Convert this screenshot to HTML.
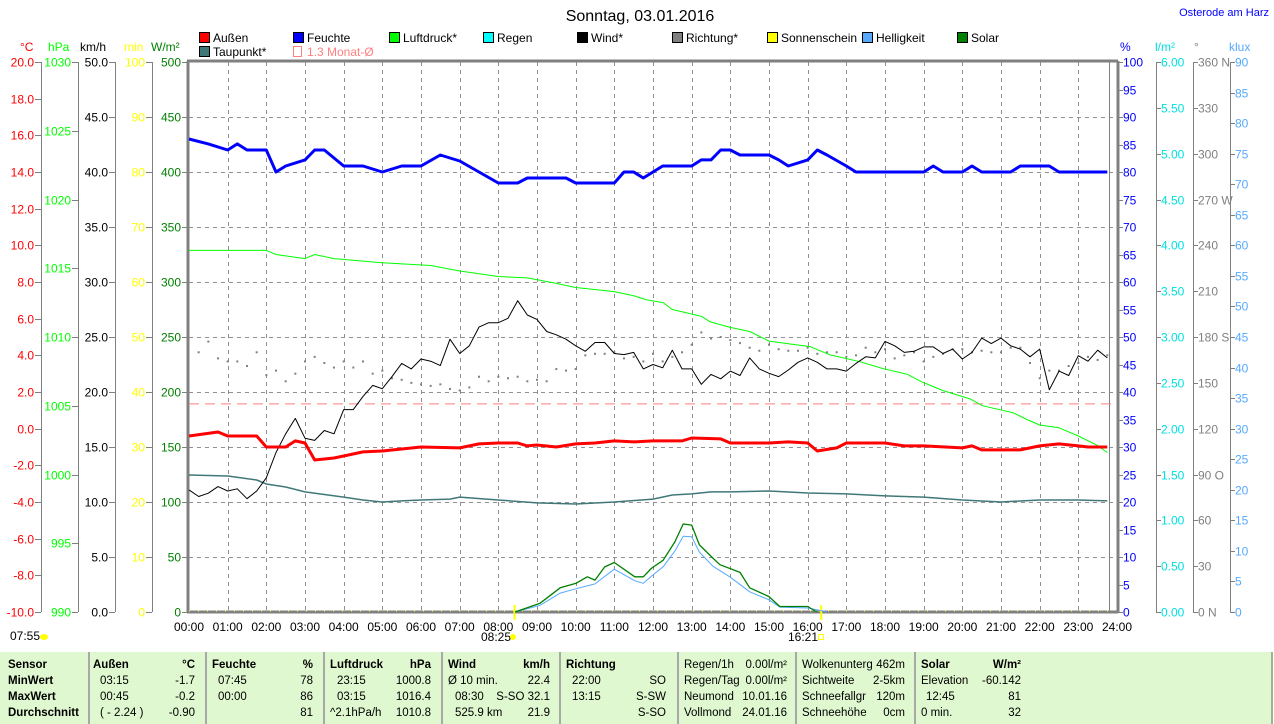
<!DOCTYPE html>
<html><head><meta charset="utf-8">
<style>
body{margin:0;width:1274px;height:724px;background:#fff;overflow:hidden;font-family:"Liberation Sans",sans-serif;position:relative}
svg{position:absolute;left:0;top:0}
text{font-family:"Liberation Sans",sans-serif}
#tbl{position:absolute;left:0;top:652px;width:1271px;height:72px;background:#e0f8d0;border-right:2px solid #a0b090;font-size:11.5px}
#tbl div{position:absolute;white-space:nowrap;line-height:14px}
.sep{width:2px;height:72px;top:0;background:#a8a8a8}
.b{font-weight:bold}
.r{text-align:right}
</style></head><body>
<svg id="ch" width="1274" height="652"></svg>
<div id="tbl">
<div class="sep" style="left:88px"></div><div class="sep" style="left:205px"></div><div class="sep" style="left:323px"></div><div class="sep" style="left:441px"></div><div class="sep" style="left:559px"></div><div class="sep" style="left:677px"></div><div class="sep" style="left:795px"></div><div class="sep" style="left:914px"></div>
<div class="b" style="left:8px;top:6px">Sensor</div><div class="b" style="left:8px;top:22px">MinWert</div><div class="b" style="left:8px;top:38px">MaxWert</div><div class="b" style="left:8px;top:54px">Durchschnitt</div>
<div class="b" style="left:93px;top:6px">Außen</div><div class="b r" style="right:1076px;top:6px">°C</div>
<div style="left:100px;top:22px">03:15</div><div class="r" style="right:1076px;top:22px">-1.7</div>
<div style="left:100px;top:38px">00:45</div><div class="r" style="right:1076px;top:38px">-0.2</div>
<div style="left:100px;top:54px">( - 2.24 )</div><div class="r" style="right:1076px;top:54px">-0.90</div>
<div class="b" style="left:212px;top:6px">Feuchte</div><div class="b r" style="right:958px;top:6px">%</div>
<div style="left:218px;top:22px">07:45</div><div class="r" style="right:958px;top:22px">78</div>
<div style="left:218px;top:38px">00:00</div><div class="r" style="right:958px;top:38px">86</div>
<div class="r" style="right:958px;top:54px">81</div>
<div class="b" style="left:330px;top:6px">Luftdruck</div><div class="b r" style="right:840px;top:6px">hPa</div>
<div style="left:337px;top:22px">23:15</div><div class="r" style="right:840px;top:22px">1000.8</div>
<div style="left:337px;top:38px">03:15</div><div class="r" style="right:840px;top:38px">1016.4</div>
<div style="left:330px;top:54px">^2.1hPa/h</div><div class="r" style="right:840px;top:54px">1010.8</div>
<div class="b" style="left:448px;top:6px">Wind</div><div class="b r" style="right:721px;top:6px">km/h</div>
<div style="left:448px;top:22px">Ø 10 min.</div><div class="r" style="right:721px;top:22px">22.4</div>
<div style="left:455px;top:38px">08:30</div><div class="r" style="right:721px;top:38px">S-SO 32.1</div>
<div style="left:455px;top:54px">525.9 km</div><div class="r" style="right:721px;top:54px">21.9</div>
<div class="b" style="left:566px;top:6px">Richtung</div>
<div style="left:572px;top:22px">22:00</div><div class="r" style="right:605px;top:22px">SO</div>
<div style="left:572px;top:38px">13:15</div><div class="r" style="right:605px;top:38px">S-SW</div>
<div class="r" style="right:605px;top:54px">S-SO</div>
<div style="left:684px;top:6px">Regen/1h</div><div class="r" style="right:484px;top:6px">0.00l/m²</div>
<div style="left:684px;top:22px">Regen/Tag</div><div class="r" style="right:484px;top:22px">0.00l/m²</div>
<div style="left:684px;top:38px">Neumond</div><div class="r" style="right:484px;top:38px">10.01.16</div>
<div style="left:684px;top:54px">Vollmond</div><div class="r" style="right:484px;top:54px">24.01.16</div>
<div style="left:802px;top:6px">Wolkenunterg</div><div class="r" style="right:366px;top:6px">462m</div>
<div style="left:802px;top:22px">Sichtweite</div><div class="r" style="right:366px;top:22px">2-5km</div>
<div style="left:802px;top:38px">Schneefallgr</div><div class="r" style="right:366px;top:38px">120m</div>
<div style="left:802px;top:54px">Schneehöhe</div><div class="r" style="right:366px;top:54px">0cm</div>
<div class="b" style="left:921px;top:6px">Solar</div><div class="b r" style="right:250px;top:6px">W/m²</div>
<div style="left:921px;top:22px">Elevation</div><div class="r" style="right:250px;top:22px">-60.142</div>
<div style="left:926px;top:38px">12:45</div><div class="r" style="right:250px;top:38px">81</div>
<div style="left:921px;top:54px">0 min.</div><div class="r" style="right:250px;top:54px">32</div>
</div>
<script>
// ---- data ----
const humT=[0,0.5,1,1.25,1.5,2,2.25,2.5,3,3.25,3.5,4,4.5,5,5.5,6,6.5,7,7.5,8,8.5,8.75,9.75,10,11,11.25,11.5,11.75,12.25,13,13.25,13.5,13.75,14,14.25,15,15.25,15.5,16,16.25,16.5,17,17.25,19,19.25,19.5,20,20.25,20.5,21.25,21.5,22.25,22.5,23.75];
const humV=[86,85.1,84,85.1,84,84,80,81.1,82.2,84,84,81.1,81.1,80,81.1,81.1,83.1,82,80,78,78,78.9,78.9,78,78,80,80,78.9,81.1,81.1,82.2,82.2,84,84,83.1,83.1,82.2,81.1,82.2,84,83.1,81.1,80,80,81.1,80,80,81.1,80,80,81.1,81.1,80,80];
const tmpT=[0,0.75,1,1.75,2,2.5,2.75,3,3.25,3.75,4,4.5,5,5.5,6,7,7.5,8,8.5,8.75,9,9.5,10,10.5,11,11.5,12,12.75,13,13.75,14,14.5,15,15.5,16,16.25,16.75,17,18,18.5,19,20,20.25,20.5,21.5,22,22.5,23,23.25,23.75];
const tmpV=[-0.4,-0.18,-0.4,-0.4,-1.0,-1.0,-0.67,-0.78,-1.71,-1.6,-1.49,-1.27,-1.22,-1.11,-1.0,-1.05,-0.83,-0.78,-0.78,-0.94,-0.89,-1.0,-0.83,-0.78,-0.67,-0.72,-0.67,-0.67,-0.51,-0.56,-0.78,-0.78,-0.78,-0.72,-0.78,-1.22,-1.05,-0.78,-0.78,-0.94,-0.94,-1.05,-0.94,-1.16,-1.16,-0.94,-0.83,-0.94,-1.0,-1.0];
const dewT=[0,1,1.75,2,2.5,3,4,4.5,5,5.5,6,6.75,7,8,9,10,11,12,12.5,13,13.5,14,15,16,17,18,19,20,21,22,23,23.75];
const dewV=[-2.53,-2.58,-2.8,-3.02,-3.18,-3.45,-3.73,-3.89,-4.0,-3.94,-3.89,-3.84,-3.73,-3.89,-4.05,-4.11,-4.0,-3.84,-3.62,-3.56,-3.45,-3.45,-3.4,-3.51,-3.56,-3.67,-3.73,-3.89,-4.0,-3.89,-3.89,-3.94];
const presT=[0,2,2.25,3,3.25,3.75,5,6.25,7,8,8.75,9.5,10,11,11.5,11.84,12.26,12.5,13.26,13.48,14,14.5,15,16.06,16.58,17.35,17.95,18.56,18.98,19.5,20.2,20.53,21.3,21.67,22,22.5,23,23.5,23.75];
const presV=[1016.3,1016.3,1016.0,1015.7,1016.0,1015.7,1015.4,1015.2,1014.8,1014.4,1014.3,1013.9,1013.6,1013.3,1013.0,1012.7,1012.5,1012.0,1011.5,1011.1,1010.7,1010.4,1009.7,1009.3,1008.7,1008.2,1007.7,1007.3,1006.7,1006.1,1005.5,1005.0,1004.5,1004.0,1003.6,1003.4,1002.8,1002.1,1001.6];
const windV=[11.1,10.5,10.8,11.4,11.0,11.2,10.3,11.0,12.2,14.5,16.2,17.6,15.8,15.6,16.5,16.2,18.4,18.4,19.6,20.6,20.3,21.4,22.6,22.1,23.0,22.8,22.4,24.8,23.5,24.2,25.9,26.3,26.3,26.7,28.3,27.0,26.6,25.5,25.2,24.8,24.2,23.7,24.5,24.5,23.5,23.4,23.6,22.1,22.5,22.2,23.8,22.1,22.1,20.7,21.6,21.2,21.9,21.5,23.1,22.1,21.7,21.4,22.0,22.7,23.1,22.7,22.1,22.1,21.9,22.6,23.2,23.1,24.6,24.2,23.6,23.7,24.1,24.1,23.5,23.9,23.0,23.6,24.9,24.4,24.9,24.2,23.9,23.2,23.9,20.2,21.9,21.5,23.3,22.8,23.8,23.1];
const dirV=[170,177,166,164,164,161,170,155,158,151,156,164,167,163,160,164,160,164,156,158,153,152,150,149,148,149,146,145,147,154,151,154,153,154,151,152,151,159,158,159,168,169,169,170,166,167,164,169,164,167,170,175,183,179,180,178,176,173,171,175,172,171,171,173,169,170,170,167,168,173,170,172,166,168,170,164,167,169,172,172,170,171,170,170,173,173,163,153,158,158,161,163,167,165,168];
const solT=[8.43,9.08,9.6,10.0,10.3,10.5,10.75,11.0,11.53,11.75,11.97,12.26,12.57,12.78,13.0,13.2,13.55,13.73,14.25,14.5,15.0,15.28,16.0,16.24];
const solV=[0,8,22,26,32,29,41,45,32,32,40,47,64,80,79,61,49,43,36,22,14,5,5,0];
const luxT=[8.43,9.08,9.6,10.0,10.5,11.0,11.53,11.75,11.97,12.26,12.57,12.78,13.0,13.2,13.55,14.0,14.5,15.0,15.28,16.0,16.3,16.5];
const luxV=[0,1.1,3.1,3.8,4.6,7.0,5.1,4.7,5.9,7.4,10.0,12.4,12.3,9.8,7.5,5.7,3.3,2.0,0.8,0.65,0.3,0];
const monthAvg=1.35;
const xTicks=["00:00","01:00","02:00","03:00","04:00","05:00","06:00","07:00","08:00","09:00","10:00","11:00","12:00","13:00","14:00","15:00","16:00","17:00","18:00","19:00","20:00","21:00","22:00","23:00","24:00"];

// ---- scales ----
const X0=189,X1=1117,YT=62,YB=612,H=YB-YT;
const X=t=>X0+t*(X1-X0)/24;
const lin=(lo,hi)=>v=>YB-(v-lo)/(hi-lo)*H;
const yC=lin(-10,20),yP=lin(990,1030),yK=lin(0,50),yM=lin(0,100),yW=lin(0,500),yH=lin(0,100),yR=lin(0,6),yD=lin(0,360),yL=lin(0,90);
const svg=document.getElementById('ch');const NS='http://www.w3.org/2000/svg';
function mk(tag,at,parent){const e=document.createElementNS(NS,tag);for(const k in at)e.setAttribute(k,at[k]);(parent||svg).appendChild(e);return e;}
function txt(x,y,s,col,anchor,size){const e=mk('text',{x:x,y:y,fill:col,'text-anchor':anchor||'start',style:'font-size:'+(size||12)+'px'});e.textContent=s;return e;}

// title
let e=txt(640,21,'Sonntag, 03.01.2016','#000','middle',16);


e=txt(1269,16,'Osterode am Harz','#0000ff','end',11);



// grid
const grid=mk('g',{stroke:'#909090','stroke-dasharray':'4,4','stroke-width':1});


for(let h=1;h<24;h++)mk('line',{x1:Math.round(X(h))+.5,x2:Math.round(X(h))+.5,y1:YT,y2:YB},grid);
for(let v=50;v<500;v+=50)mk('line',{x1:X0,x2:X1,y1:Math.round(yW(v))+.5,y2:Math.round(yW(v))+.5},grid);

// frame
mk('line',{x1:X0-1,x2:X0-1,y1:YT-1,y2:YB+1,stroke:'#808080','stroke-width':3});
mk('line',{x1:X0-2,x2:X1+1,y1:YT-1,y2:YT-1,stroke:'#808080','stroke-width':3});
mk('line',{x1:X0-2,x2:X1+1,y1:YB,y2:YB,stroke:'#808080','stroke-width':3});
mk('line',{x1:1109.5,x2:1109.5,y1:YT,y2:YB,stroke:'#808080','stroke-width':1});
mk('line',{x1:X1+1,x2:X1+1,y1:YT-1,y2:YB+1,stroke:'#808080','stroke-width':3});
mk('line',{x1:X0,x2:1108,y1:YB-1,y2:YB-1,stroke:'#ffff00','stroke-width':1,'stroke-dasharray':'1,8'});

// axes
function axis(name,lineX,side,vals,scale,fmt,col,unit,unitX,extra){
 const g=mk('g',{});
 
 
 mk('line',{x1:lineX+.5,x2:lineX+.5,y1:YT,y2:YB,stroke:'#808080','stroke-width':1},g);
 vals.forEach((v,i)=>{const y=Math.round(scale(v))+.5;
  if(side<0){mk('line',{x1:lineX-6,x2:lineX,y1:y,y2:y,stroke:'#808080'},g);const t=txt(lineX-7,y+4,fmt(v),col,'end');g.appendChild(t);}
  else{mk('line',{x1:lineX,x2:lineX+5,y1:y,y2:y,stroke:'#808080'},g);const t=txt(lineX+5,y+4,fmt(v)+(extra?extra[i]:''),col,'start');g.appendChild(t);}
 });
 g.appendChild(txt(unitX,51,unit,col,'start',12));
}
const rng=(a,b,s)=>{const r=[];for(let v=a;v<=b+1e-9;v+=s)r.push(+v.toFixed(4));return r;};
axis('celsius-axis',41,-1,rng(-10,20,2),yC,v=>v.toFixed(1),'#ff0000','°C',20);
axis('hpa-axis',78,-1,rng(990,1030,5),yP,v=>String(v),'#00ff00','hPa',48);
axis('kmh-axis',115,-1,rng(0,50,5),yK,v=>v.toFixed(1),'#000','km/h',80);
axis('minutes-axis',152,-1,rng(0,100,10),yM,v=>String(v),'#ffff00','min',124);
axis('solar-axis',188,-1,rng(0,500,50),yW,v=>String(v),'#008000','W/m²',151);
axis('humidity-axis',1118,1,rng(0,100,5),yH,v=>String(v),'#0000ff','%',1120);
axis('rain-axis',1156,1,rng(0,6,0.5),yR,v=>v.toFixed(2),'#00e0e0','l/m²',1155);
const dirL={0:' N',90:' O',180:' S',270:' W',360:' N'};
axis('direction-axis',1193,1,rng(0,360,30),yD,v=>String(v),'#808080','°',1194,rng(0,360,30).map(v=>dirL[v]||''));
axis('klux-axis',1230,1,rng(0,90,5),yL,v=>String(v),'#55aaff','klux',1229);

// x labels
xTicks.forEach((s,i)=>{const t=txt(X(i),631,s,'#000','middle');
 
 });
txt(10,640,'07:55','#000','start');mk('ellipse',{cx:44,cy:637,rx:4,ry:3,fill:'#ffff00'});
txt(481,641,'08:25','#000','start');mk('circle',{cx:513,cy:637,r:3,fill:'#ffff00'});
txt(788,641,'16:21','#000','start');mk('rect',{x:818.5,y:634.5,width:5,height:5,fill:'none',stroke:'#ffff00'});
mk('line',{x1:X(8.42),x2:X(8.42),y1:605,y2:620,stroke:'#ffff00','stroke-width':2});
mk('line',{x1:X(16.35),x2:X(16.35),y1:605,y2:620,stroke:'#ffff00','stroke-width':2});

// legend
const leg=[['Außen','#ff0000',199,38],['Feuchte','#0000ff',293,38],['Luftdruck*','#00ff00',389,38],['Regen','#00ffff',483,38],['Wind*','#000',577,38],['Richtung*','#808080',672,38],['Sonnenschein','#ffff00',767,38],['Helligkeit','#55aaff',862,38],['Solar','#008000',957,38],['Taupunkt*','#407878',199,52]];
leg.forEach(l=>{const g=mk('g',{});
 
 
 mk('rect',{x:l[2]+.5,y:l[3]-5.5,width:10,height:10,fill:l[1],stroke:'#000'},g);
 g.appendChild(txt(l[2]+14,l[3]+4,l[0],'#000','start',12));});
const lg=mk('g',{});


mk('rect',{x:293.5,y:46.5,width:8,height:10,fill:'none',stroke:'#ff8080'},lg);
lg.appendChild(txt(307,56,'1.3 Monat-Ø','#ff8080','start',12));

// series
function line(name,ts,vs,sc,col,w){const p=ts.map((t,i)=>X(t).toFixed(1)+','+sc(vs[i]).toFixed(1)).join(' ');
 const el=mk('polyline',{points:p,fill:'none',stroke:col,'stroke-width':w,'stroke-linejoin':'round'});
 
 }
const ma=mk('line',{x1:X0,x2:X1,y1:yC(monthAvg),y2:yC(monthAvg),stroke:'#ff8080','stroke-dasharray':'10,6'});


const dg=mk('g',{fill:'#808080'});


dirV.forEach((d,i)=>mk('rect',{x:X((i+1)*0.25)-1,y:yD(d)-1,width:2,height:2},dg));
line('pressure-line',presT,presV,yP,'#00ff00',1);
line('dewpoint-line',dewT,dewV,yC,'#407878',1.5);
line('helligkeit-line',luxT,luxV,yL,'#55aaff',1);
line('solar-line',solT,solV,yW,'#008000',1.3);
line('wind-line',windV.map((v,i)=>i*0.25),windV,yK,'#000',1);
line('temperature-line',tmpT,tmpV,yC,'#ff0000',3);
line('humidity-line',humT,humV,yH,'#0000ff',3);
</script>
</body></html>
